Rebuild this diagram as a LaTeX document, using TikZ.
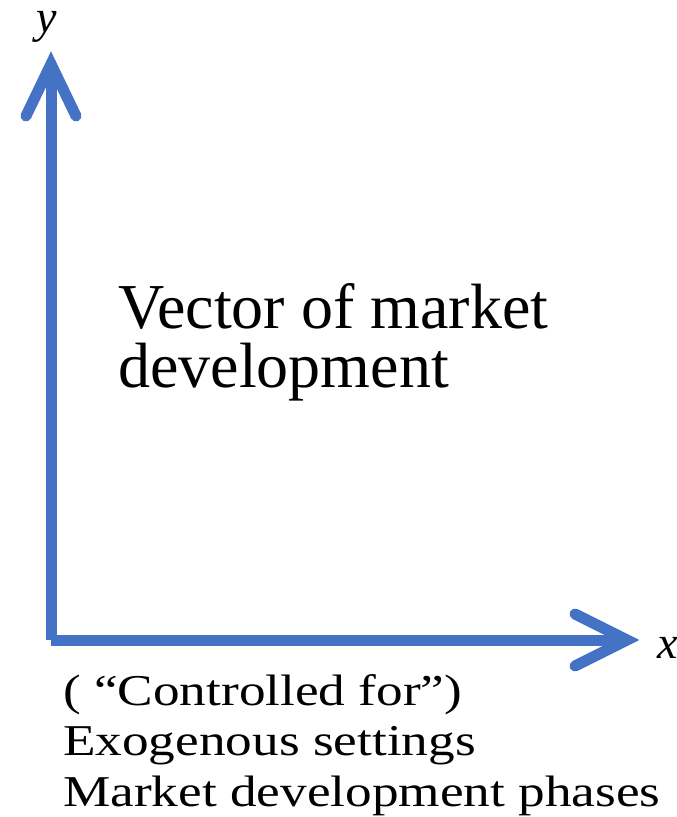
\documentclass[tikz,border=0pt]{standalone}
\usepackage{fontspec}
\setmainfont{Liberation Serif}
\newfontfamily\widerserif[FakeStretch=1.21]{Liberation Serif}
\usetikzlibrary{calc}
\definecolor{axisblue}{HTML}{4472C4}
\tikzset{
  axisline/.style={draw=axisblue, line width=11pt, line cap=butt},
  axishead/.style={draw=axisblue, line width=11pt, line cap=round, line join=miter},
  axislabel/.style={font=\fontsize{46}{46}\selectfont\itshape, inner sep=0pt, anchor=base},
  bigtext/.style={font=\fontsize{64}{59}\selectfont, align=left, inner sep=0pt, anchor=base west},
  smalltext/.style={font=\widerserif\fontsize{44}{50.5}\selectfont, align=left, inner sep=0pt, anchor=base west},
}
\begin{document}
\begin{tikzpicture}[x=1pt, y=-1pt]
  \useasboundingbox (0,0) rectangle (677,817);
  % axes
  \coordinate (O) at (51,640);
  \coordinate (ytip) at (51,64);
  \coordinate (xtip) at (627,640);
  \draw[axisline] (O) -- (ytip);
  \draw[axisline] (O) -- (xtip);
  \draw[axishead] ($(ytip)+(-25,52)$) -- (ytip) -- ($(ytip)+(25,52)$);
  \draw[axishead] ($(xtip)+(-52,-26)$) -- (xtip) -- ($(xtip)+(-52,26)$);
  % axis labels
  \node[axislabel] (ylab) at (47,32) {y};
  \node[axislabel] (xlab) at (668,658) {x};
  % texts (anchored at the baseline of the last line)
  \node[bigtext] (vec) at (118,387) {Vector of market\\development};
  \node[smalltext] (ctrl) at (63,806) {( “Controlled for”)\\Exogenous settings\\Market development phases};
\end{tikzpicture}
\end{document}
